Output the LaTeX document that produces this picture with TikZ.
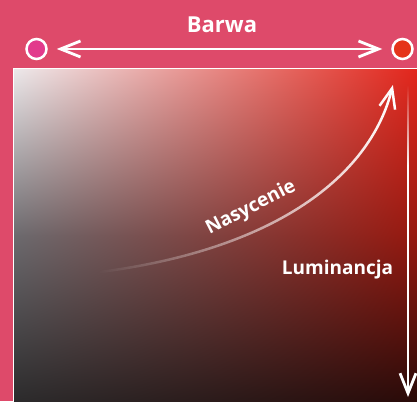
\documentclass[tikz,border=0pt]{standalone}
\usepackage{fontspec}
\setmainfont{Open Sans}
\usetikzlibrary{shadings,fadings,arrows.meta}
\definecolor{bgpink}{HTML}{DE4A6A}
\definecolor{huemag}{HTML}{E23A8C}
\definecolor{huered}{HTML}{E5341A}
\definecolor{cUL}{HTML}{ECE8EA}
\definecolor{cUR}{HTML}{E2261C}
\definecolor{cML}{HTML}{6C6A6E}
\definecolor{cMR}{HTML}{96180F}
\definecolor{cLL}{HTML}{2C2B2C}
\definecolor{cLR}{HTML}{2A0A08}
\tikzfading[name=fadeup, top color=transparent!100, bottom color=transparent!0]
\tikzfading[name=fadeleft, left color=transparent!100, middle color=transparent!10, right color=transparent!0]
\tikzset{
  huedot/.style={circle, draw=white, line width=2.5pt, minimum size=20pt, inner sep=0pt},
  barb/.style={-{Straight Barb[length=20pt,width=16pt]}},
  wline/.style={white, line width=2.8pt},
  lbl/.style={text=white, inner sep=0pt, font=\bfseries}
}
\begin{document}
\begin{tikzpicture}[x=1pt,y=-1pt]
\useasboundingbox (0,0) rectangle (417,401);
\fill[bgpink] (0,0) rectangle (417,401);
% gradient square
\shade[upper left=cUL, upper right=cUR, lower left=cML, lower right=cMR] (14,69) rectangle (417,235.5);
\shade[upper left=cML, upper right=cMR, lower left=cLL, lower right=cLR] (14,235) rectangle (417,401);
\draw[white, line width=1pt] (13.5,401) -- (13.5,68.5) -- (417,68.5);
% hue
\node[huedot, fill=huemag] (c1) at (36.5,49) {};
\node[huedot, fill=huered] (c2) at (402.5,49) {};
\draw[wline, {Straight Barb[length=20pt,width=16pt]}-{Straight Barb[length=20pt,width=16pt]}, shorten <=9pt, shorten >=9pt] (c1) -- (c2);
\node[lbl, anchor=base, font=\bfseries\fontsize{22}{26}\selectfont] (barwa) at (222,33) {Barwa};
% luminance
\coordinate (lumtop) at (408,85);
\coordinate (lummid) at (408,165);
\coordinate (lumbot) at (408,397);
\fill[white, path fading=fadeup] (406.6,85) rectangle (409.4,165.5);
\draw[wline, barb] (lummid) -- (lumbot);
\node[lbl, anchor=base, font=\bfseries\fontsize{19}{23}\selectfont] (lum) at (337.5,274) {Luminancja};
% saturation
\coordinate (nstart) at (100,272);
\coordinate (ntip) at (393,85);
\draw[wline, line width=2.5pt, path fading=fadeleft, barb] (nstart) .. controls (285,248) and (372,170) .. (ntip);
\node[lbl, rotate=27, font=\bfseries\fontsize{19}{23}\selectfont] (nas) at (251,208) {Nasycenie};
\end{tikzpicture}
\end{document}
